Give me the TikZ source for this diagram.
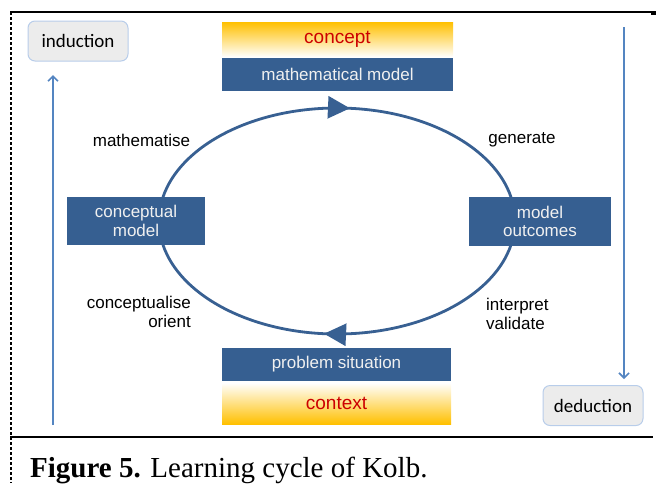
\documentclass[tikz,border=0pt]{standalone}
\usepackage{fontspec}
\setmainfont{Liberation Sans}
\newfontfamily\calfont{Carlito}
\newfontfamily\capfont{Liberation Serif}
\usetikzlibrary{arrows.meta,decorations.markings}
\definecolor{boxblue}{RGB}{54,95,145}
\definecolor{ringblue}{RGB}{56,96,146}
\definecolor{lineblue}{RGB}{84,133,193}
\definecolor{tagedge}{RGB}{184,205,234}
\definecolor{tagfill}{RGB}{236,236,236}
\definecolor{gold}{RGB}{255,192,0}
\definecolor{textred}{RGB}{204,0,0}
\begin{document}
\begin{tikzpicture}[x=1pt,y=-1pt,
	stagebox/.style={fill=boxblue,text=white!94!black,align=center,inner sep=0pt,
		font=\fontsize{17}{18.5}\selectfont},
	band/.style={text=textred,inner sep=0pt,minimum width=231pt,
		font=\fontsize{19}{22}\selectfont},
	tagbox/.style={draw=tagedge,line width=1pt,fill=tagfill,rounded corners=7pt,
		minimum width=100pt,minimum height=40pt,inner sep=0pt,
		font=\calfont\fontsize{19}{22}\selectfont},
	verb/.style={font=\fontsize{17}{19}\selectfont,inner sep=0pt},
	flow/.style={draw=lineblue,line width=1.6pt,-{Straight Barb[length=5pt,width=10pt]}},
	cycle/.style={draw=ringblue,line width=2.8pt,
		decoration={markings,
			mark=at position 0.264 with {\arrow{Triangle[length=22pt,width=22pt]}},
			mark=at position 0.764 with {\arrow{Triangle[length=22pt,width=22pt]}}},
		postaction={decorate}}]
	\useasboundingbox (0,0) rectangle (656,483);

	% frame
	\draw[line width=1.5pt] (10,12) -- (656,12);
	\fill (651,12) rectangle (656,15);
	\draw[line width=2pt,dash pattern=on 3pt off 2pt] (11,12) -- (11,483);
	\draw[line width=2.5pt] (10,437) -- (653,437);

	% cycle
	\coordinate (C) at (337,221);
	\draw[cycle] (C) ellipse [x radius=178, y radius=113];

	\node[band,minimum height=35pt,top color=gold,middle color=gold!45!white,bottom color=white] (concept) at (337.5,39.5) {concept};
	\node[stagebox,minimum width=231pt,minimum height=33pt] (math) at (337.5,74.5) {mathematical model};
	\node[stagebox,minimum width=229pt,minimum height=33pt] (problem) at (336.5,364.5) {problem situation};
	\node[band,minimum width=229pt,minimum height=41pt,top color=white,middle color=gold!45!white,bottom color=gold] (context) at (336.5,403.5) {context};
	\node[stagebox,minimum width=138pt,minimum height=48pt] (concmodel) at (136,221) {conceptual\\model};
	\node[stagebox,minimum width=142pt,minimum height=49pt] (outcomes) at (540,221.5) {model\\outcomes};

	\node[verb] (mathematise) at (141.5,140) {mathematise};
	\node[verb] (generate) at (522,140) {generate};
	\node[verb,anchor=east,align=right] (orient) at (191,312) {conceptualise\\orient};
	\node[verb,anchor=west,align=left] (validate) at (486,314) {interpret\\validate};

	% induction / deduction
	\node[tagbox] (induction) at (78,41) {induction};
	\node[tagbox] (deduction) at (593,405.5) {deduction};
	\coordinate (indfoot) at (53,425);
	\coordinate (indtip) at (53,75);
	\coordinate (dedtop) at (624,27);
	\coordinate (dedtip) at (624,379);
	\draw[flow] (indfoot) -- (indtip);
	\draw[flow] (dedtop) -- (dedtip);

	% caption
	\node[anchor=base west,inner sep=0pt,font=\capfont\fontsize{29}{32}\selectfont] (caption) at (30,477) {\textbf{Figure 5.} Learning cycle of Kolb.};
\end{tikzpicture}
\end{document}
